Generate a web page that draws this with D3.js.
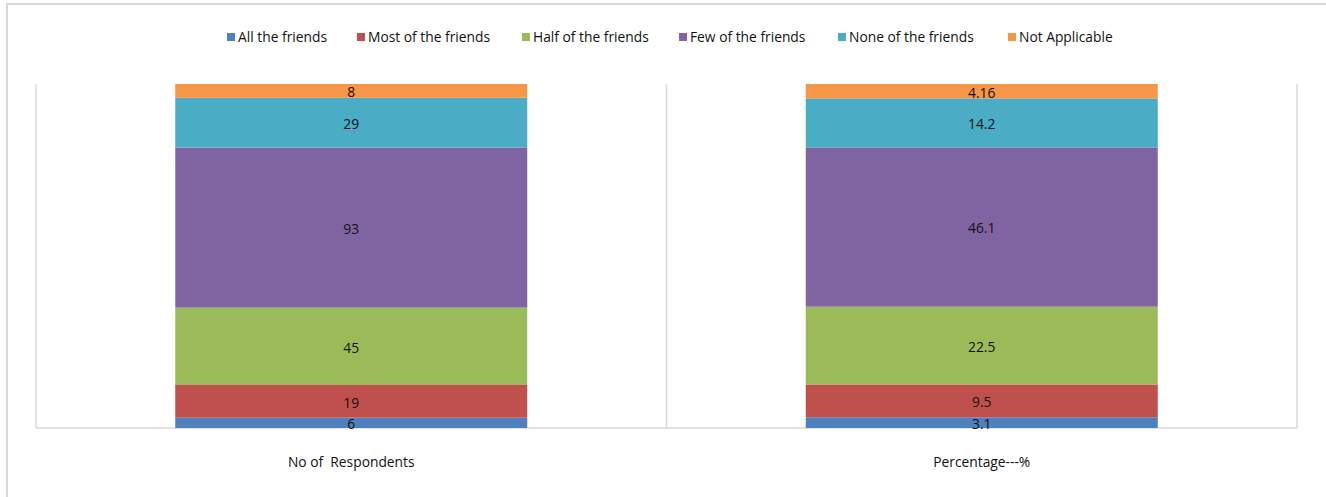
<!DOCTYPE html>
<html><head><meta charset="utf-8">
<script src="https://cdn.jsdelivr.net/npm/d3@7"></script>
<style>body{margin:0;background:#fff}svg{display:block}text{font-family:"Open Sans",sans-serif;fill:#111}</style>
</head><body>
<script>
const categories = ["No of  Respondents", "Percentage---%"];
const seriesNames = ["All the friends","Most of the friends","Half of the friends","Few of the friends","None of the friends","Not Applicable"];
const respondents = [6, 19, 45, 93, 29, 8];
const percentage = [3.1, 9.5, 22.5, 46.1, 14.2, 4.16];
const labelsRespondents = ["6","19","45","93","29","8"];
const labelsPercentage = ["3.1","9.5","22.5","46.1","14.2","4.16"];
const colors = ["#4F81BD","#C0504D","#9BBB59","#8064A2","#4BACC6","#F79646"];

const W = 1326, H = 497, FS = 13.8;
const svg = d3.select("body").append("svg").attr("width", W).attr("height", H);
svg.append("rect").attr("x",7).attr("y",4).attr("width",W+10).attr("height",H+10)
  .attr("fill","#fff").attr("stroke","#d9d9d9").attr("stroke-width",2);

const plot = {left:36, right:1297, top:84, bottom:428};
const x = d3.scaleBand().domain(categories).range([plot.left, plot.right]).paddingInner(0).paddingOuter(0);
const barW = 352;
const y = d3.scaleLinear().domain([0,1]).range([plot.bottom, plot.top]);

const rows = categories.map((c,i)=>{
  const vals = i===0 ? respondents : percentage;
  const labs = i===0 ? labelsRespondents : labelsPercentage;
  const o = {cat:c}; seriesNames.forEach((s,j)=>{o[s]=vals[j]; o["_l"+j]=labs[j];}); return o;
});
const stack = d3.stack().keys(seriesNames).offset(d3.stackOffsetExpand);
const layers = stack(rows);

const g = svg.append("g");
[plot.left, x(categories[1]), plot.right].forEach(px=>{
  g.append("line").attr("x1",px).attr("x2",px).attr("y1",plot.top).attr("y2",plot.bottom)
   .attr("stroke","#d9d9d9").attr("stroke-width",1.5);
});

layers.forEach((layer,j)=>{
  svg.append("g").selectAll("rect").data(layer).join("rect")
    .attr("x", d=> x(d.data.cat) + (x.bandwidth()-barW)/2)
    .attr("width", barW)
    .attr("y", d=> y(d[1]))
    .attr("height", d=> y(d[0]) - y(d[1]))
    .attr("fill", colors[j]);
});
layers.forEach((layer,j)=>{
  svg.append("g").selectAll("text").data(layer).join("text")
    .attr("x", d=> x(d.data.cat) + x.bandwidth()/2)
    .attr("y", d=> (y(d[0])+y(d[1]))/2 + 1.5)
    .attr("dy","0.35em")
    .attr("text-anchor","middle").attr("font-size",FS)
    .text(d=> d.data["_l"+j]);
});

g.append("line").attr("x1",plot.left).attr("x2",plot.right).attr("y1",plot.bottom).attr("y2",plot.bottom)
  .attr("stroke","#d9d9d9").attr("stroke-width",1.5);

const xAxis = d3.axisBottom(x).tickSize(0).tickPadding(29);
const ax = svg.append("g").attr("transform",`translate(0,${plot.bottom})`).call(xAxis);
ax.select(".domain").remove();
ax.selectAll("text").attr("font-size",FS).style("font-family","'Open Sans',sans-serif").attr("fill","#111").style("white-space","pre");

const leg = svg.append("g");
const legX = [227, 357, 522, 679, 838, 1008];
seriesNames.forEach((s,i)=>{
  const it = leg.append("g").attr("transform",`translate(${legX[i]},37)`);
  it.append("rect").attr("x",0).attr("y",-4).attr("width",8).attr("height",8).attr("fill",colors[i]);
  it.append("text").attr("x",11).attr("y",0).attr("dy","0.35em").attr("font-size",FS).text(s);
});
</script>
</body></html>
